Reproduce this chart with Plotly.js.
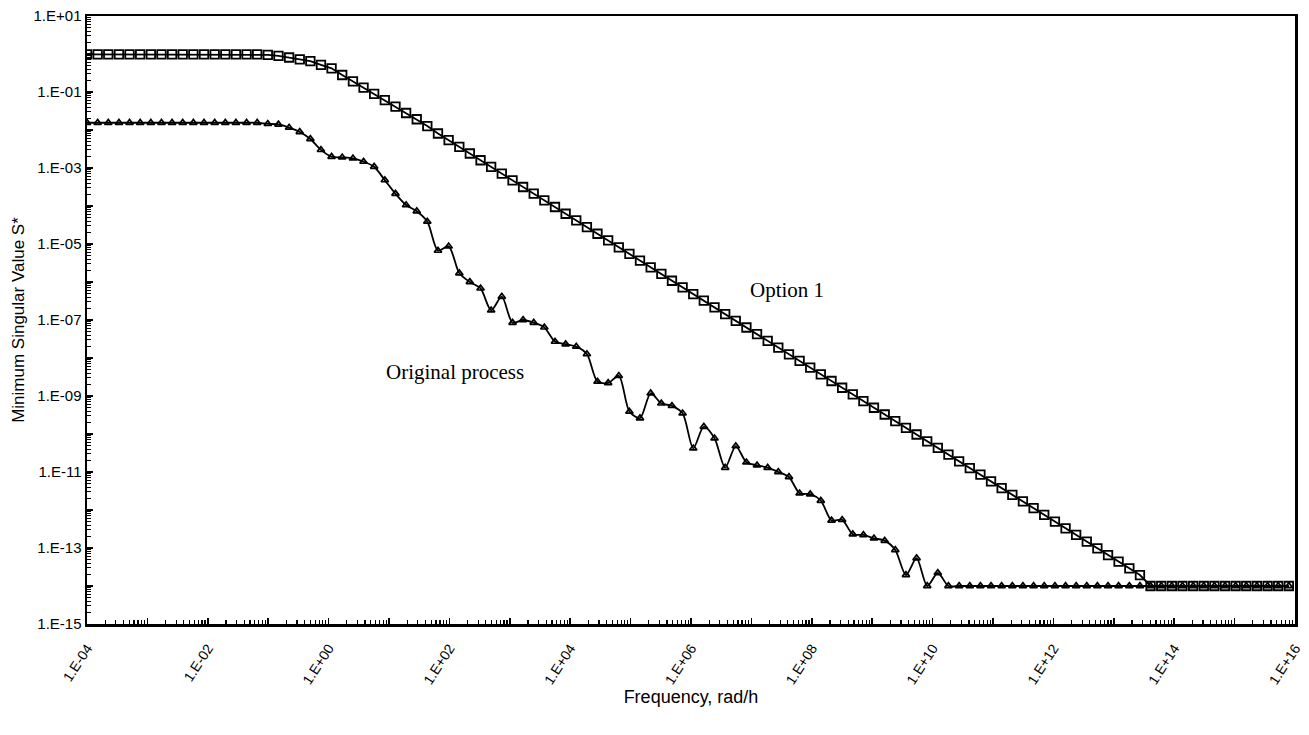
<!DOCTYPE html>
<html>
<head>
<meta charset="utf-8">
<script src="https://cdn.plot.ly/plotly-3.0.1.min.js"></script>
<style>html,body{margin:0;padding:0;background:#fff;}#chart{width:1309px;height:735px;}</style>
</head>
<body>
<div id="chart"></div>
<script>
// Frequency, rad/h (one point per step of x1.5)
const freq = [1e-4,1.5e-4,2.25e-4,3.38e-4,5.06e-4,7.59e-4,
  1.14e-3,1.71e-3,2.56e-3,3.84e-3,5.77e-3,8.65e-3,
  1.30e-2,1.95e-2,2.92e-2,4.38e-2,6.57e-2,9.85e-2,
  0.148,0.222,0.333,0.499,0.748,
  1.12,1.68,2.53,3.79,5.68,8.52,
  12.8,19.2,28.8,43.1,64.7,97.1,
  146,218,328,491,737,
  1.11e3,1.66e3,2.49e3,3.73e3,5.60e3,8.40e3,
  1.26e4,1.89e4,2.83e4,4.25e4,6.38e4,9.56e4,
  1.43e5,2.15e5,3.23e5,4.84e5,7.26e5,
  1.09e6,1.63e6,2.45e6,3.68e6,5.51e6,8.27e6,
  1.24e7,1.86e7,2.79e7,4.19e7,6.28e7,9.42e7,
  1.41e8,2.12e8,3.18e8,4.77e8,7.15e8,
  1.07e9,1.61e9,2.41e9,3.62e9,5.43e9,8.15e9,
  1.22e10,1.83e10,2.75e10,4.13e10,6.19e10,9.28e10,
  1.39e11,2.09e11,3.13e11,4.70e11,7.05e11,
  1.06e12,1.59e12,2.38e12,3.57e12,5.35e12,8.03e12,
  1.20e13,1.81e13,2.71e13,4.06e13,6.10e13,9.14e13,
  1.37e14,2.06e14,3.09e14,4.63e14,6.94e14,
  1.04e15,1.56e15,2.34e15,3.52e15,5.27e15,7.91e15];

// Minimum singular value S*, Option 1
const option1 = [0.98,0.98,0.98,0.98,0.98,0.98,0.98,0.98,0.98,0.98,0.98,0.98,0.98,0.98,0.98,0.98,0.98,
  0.95,0.89,0.81,0.72,0.65,0.52,0.42,0.28,0.19,0.13,0.089,0.061,0.041,0.028,0.0192,0.0127,
  8.1e-3,5.4e-3,3.6e-3,2.41e-3,1.60e-3,1.07e-3,7.1e-4,4.7e-4,3.16e-4,2.11e-4,1.41e-4,
  9.4e-5,6.25e-5,4.17e-5,2.78e-5,1.86e-5,1.24e-5,8.2e-6,5.5e-6,3.67e-6,2.44e-6,1.63e-6,1.08e-6,
  7.2e-7,4.8e-7,3.22e-7,2.14e-7,1.43e-7,9.5e-8,6.35e-8,4.23e-8,2.82e-8,1.88e-8,1.25e-8,
  8.4e-9,5.6e-9,3.72e-9,2.48e-9,1.65e-9,1.10e-9,7.3e-10,4.9e-10,3.26e-10,2.18e-10,1.45e-10,
  9.7e-11,6.4e-11,4.3e-11,2.87e-11,1.91e-11,1.27e-11,8.5e-12,5.7e-12,3.78e-12,2.51e-12,1.68e-12,1.12e-12,
  7.45e-13,4.95e-13,3.3e-13,2.21e-13,1.47e-13,9.8e-14,6.5e-14,4.4e-14,2.9e-14,1.94e-14,
  1e-14,1e-14,1e-14,1e-14,1e-14,1e-14,1e-14,1e-14,1e-14,1e-14,1e-14,1e-14,1e-14,1e-14];

// Minimum singular value S*, Original process
const originalProcess = [0.0155,0.0155,0.0155,0.0155,0.0155,0.0155,0.0155,0.0155,0.0155,0.0155,0.0155,0.0155,0.0155,0.0155,0.0155,0.0155,0.0155,
  0.0145,0.014,0.0116,8.9e-3,5.8e-3,3.0e-3,1.98e-3,1.91e-3,1.80e-3,1.47e-3,1.08e-3,4.8e-4,2.1e-4,1.06e-4,7.3e-5,3.9e-5,
  6.7e-6,8.7e-6,1.7e-6,1.0e-6,6.8e-7,1.8e-7,4.1e-7,8.5e-8,1.0e-7,8.5e-8,6.4e-8,2.7e-8,2.3e-8,2.0e-8,1.27e-8,
  2.4e-9,2.2e-9,3.4e-9,3.9e-10,2.6e-10,1.18e-9,6.4e-10,5.5e-10,3.5e-10,4.2e-11,1.56e-10,7.7e-11,
  1.3e-11,4.8e-11,1.8e-11,1.5e-11,1.3e-11,1.0e-11,7.4e-12,2.75e-12,2.6e-12,1.76e-12,5.3e-13,5.5e-13,
  2.3e-13,2.2e-13,1.8e-13,1.56e-13,8.9e-14,1.95e-14,5.4e-14,1.0e-14,2.2e-14,
  1e-14,1e-14,1e-14,1e-14,1e-14,1e-14,1e-14,1e-14,1e-14,1e-14,1e-14,1e-14,1e-14,1e-14,1e-14,1e-14,1e-14,
  1e-14,1e-14,1e-14,1e-14,1e-14,1e-14,1e-14,1e-14,1e-14,1e-14,1e-14,1e-14,1e-14,1e-14,1e-14,1e-14];

const xTickVals = [1e-4,1e-3,1e-2,1e-1,1e0,1e1,1e2,1e3,1e4,1e5,1e6,1e7,1e8,1e9,1e10,1e11,1e12,1e13,1e14,1e15,1e16];
const xTickText = ['1.E-04','','1.E-02','','1.E+00','','1.E+02','','1.E+04','','1.E+06','','1.E+08','','1.E+10','','1.E+12','','1.E+14','','1.E+16'];
const yTickVals = [1e1,1e0,1e-1,1e-2,1e-3,1e-4,1e-5,1e-6,1e-7,1e-8,1e-9,1e-10,1e-11,1e-12,1e-13,1e-14,1e-15];
const yTickText = ['1.E+01','','1.E-01','','1.E-03','','1.E-05','','1.E-07','','1.E-09','','1.E-11','','1.E-13','','1.E-15'];

const labelOption1 = 'Option 1';
const labelOriginal = 'Original process';

const traces = [
  {
    x: freq, y: option1, type: 'scatter', mode: 'lines+markers', name: labelOption1,
    line: {color: '#000', width: 1.8},
    marker: {symbol: 'square-open', size: 8.5, color: '#000', line: {width: 1.8, color: '#000'}},
    cliponaxis: true
  },
  {
    x: freq, y: originalProcess, type: 'scatter', mode: 'lines+markers', name: labelOriginal,
    line: {color: '#000', width: 1.8, shape: 'spline', smoothing: 0.8},
    marker: {symbol: 'triangle-up-open', size: 6.5, color: '#000', line: {width: 1.7, color: '#000'}},
    cliponaxis: true
  }
];

const sans = 'Liberation Sans, Arial, sans-serif';

const layout = {
  width: 1309, height: 735,
  margin: {l: 87, r: 14, t: 16, b: 111},
  paper_bgcolor: '#fff', plot_bgcolor: '#fff',
  showlegend: false,
  font: {family: sans, color: '#000'},
  xaxis: {
    type: 'log', range: [-4, 16],
    tickmode: 'array', tickvals: xTickVals, ticktext: xTickText,
    tickangle: -57, tickfont: {family: sans, size: 14, color: '#000'},
    ticklabelstandoff: 8,
    ticks: 'inside', ticklen: 6, tickwidth: 1.5, tickcolor: '#000',
    minor: {ticks: 'inside', ticklen: 4, tickwidth: 1.2, tickcolor: '#000', dtick: 'D1', showgrid: false},
    showline: true, linewidth: 2.5, linecolor: '#000', mirror: true,
    showgrid: false, zeroline: false,
    title: {text: 'Frequency, rad/h', font: {family: sans, size: 18, color: '#000'}, standoff: 1}
  },
  yaxis: {
    type: 'log', range: [-15, 1],
    tickmode: 'array', tickvals: yTickVals, ticktext: yTickText,
    tickfont: {family: sans, size: 15, color: '#000'},
    ticks: 'inside', ticklen: 6, tickwidth: 1.5, tickcolor: '#000',
    minor: {ticks: 'inside', ticklen: 4, tickwidth: 1.2, tickcolor: '#000', dtick: 'D1', showgrid: false},
    showline: true, linewidth: 2.5, linecolor: '#000', mirror: true,
    showgrid: false, zeroline: false,
    title: {text: 'Minimum Singular Value S*', font: {family: sans, size: 17, color: '#000'}, standoff: 5}
  },
  annotations: [
    {text: labelOption1, xref: 'paper', yref: 'paper', x: 0.5795, y: 0.549, xanchor: 'center', yanchor: 'middle', showarrow: false,
     font: {family: 'Liberation Serif, Times New Roman, serif', size: 21, color: '#000'}},
    {text: labelOriginal, xref: 'paper', yref: 'paper', x: 0.3046, y: 0.4145, xanchor: 'center', yanchor: 'middle', showarrow: false,
     font: {family: 'Liberation Serif, Times New Roman, serif', size: 21, color: '#000'}}
  ],
  shapes: [
    {type: 'line', xref: 'paper', yref: 'y', x0: 1, x1: 1.03, y0: -14, y1: -14, line: {color: '#000', width: 2}}
  ]
};

Plotly.newPlot('chart', traces, layout, {displayModeBar: false, staticPlot: true});
</script>
</body>
</html>
